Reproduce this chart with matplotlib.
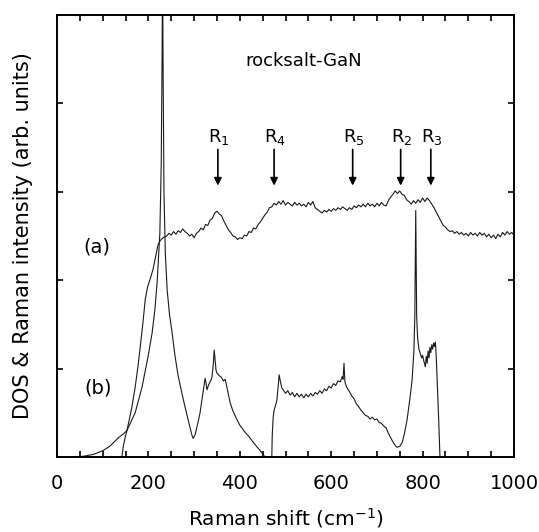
import matplotlib
matplotlib.use("Agg")
import matplotlib.pyplot as plt
from matplotlib.ticker import MultipleLocator, NullFormatter

plt.rcParams['font.family'] = ['DejaVu Sans']
plt.rcParams['mathtext.fontset'] = 'dejavusans'

# ---------------- data ----------------
# (a) Raman spectrum
raman_x = [142, 145, 149, 153, 158, 164, 171, 177, 182, 188, 193, 198, 203, 210, 216, 221, 226, 232,
           240, 245, 250, 255, 260, 265, 270, 275, 280, 285, 290, 295, 300, 305, 310, 315, 320, 325,
           330, 335, 340, 345, 350, 355, 360, 365, 370, 375, 380, 385, 390, 395, 400, 405, 410, 415,
           420, 425, 430, 435, 440, 445, 450, 455, 460, 465, 470, 475, 480, 485, 490, 495, 500, 505,
           510, 515, 520, 525, 530, 535, 540, 545, 550, 555, 560, 565, 570, 575, 580, 585, 590, 595,
           600, 605, 610, 615, 620, 625, 630, 635, 640, 645, 650, 655, 660, 665, 670, 675, 680, 685,
           690, 695, 700, 705, 710, 715, 720, 725, 730, 735, 740, 745, 750, 755, 760, 765, 770, 775,
           780, 785, 790, 795, 800, 805, 810, 815, 820, 825, 830, 835, 840, 845, 850, 855, 860, 865,
           870, 875, 880, 885, 890, 895, 900, 905, 910, 915, 920, 925, 930, 935, 940, 945, 950, 955,
           960, 965, 970, 975, 980, 985, 990, 995, 1000]
raman_y = [0.00, 0.12, 0.22, 0.30, 0.42, 0.57, 0.79, 1.02, 1.24, 1.52, 1.78, 1.92, 2.00, 2.12, 2.27, 2.40, 2.45, 2.48,
           2.50, 2.53, 2.51, 2.55, 2.52, 2.56, 2.54, 2.58, 2.55, 2.53, 2.50, 2.52, 2.48, 2.53, 2.55, 2.59, 2.57, 2.63,
           2.62, 2.68, 2.70, 2.76, 2.78, 2.75, 2.73, 2.67, 2.62, 2.57, 2.54, 2.50, 2.49, 2.46, 2.48, 2.47, 2.51, 2.50,
           2.55, 2.54, 2.59, 2.58, 2.63, 2.66, 2.70, 2.74, 2.77, 2.82, 2.83, 2.87, 2.85, 2.89, 2.86, 2.90, 2.85, 2.88,
           2.86, 2.84, 2.88, 2.85, 2.87, 2.84, 2.86, 2.83, 2.88, 2.85, 2.89, 2.82, 2.80, 2.78, 2.76, 2.79, 2.77, 2.80,
           2.78, 2.81, 2.79, 2.82, 2.80, 2.83, 2.81, 2.79, 2.82, 2.80, 2.84, 2.82, 2.85, 2.83, 2.86, 2.83, 2.87, 2.84,
           2.86, 2.83, 2.87, 2.84, 2.88, 2.85, 2.84, 2.90, 2.94, 2.97, 3.01, 2.98, 3.01, 2.97, 2.96, 2.91, 2.89, 2.86,
           2.90, 2.87, 2.91, 2.88, 2.93, 2.89, 2.93, 2.90, 2.86, 2.82, 2.77, 2.72, 2.67, 2.62, 2.60, 2.57, 2.55, 2.56,
           2.53, 2.55, 2.52, 2.54, 2.51, 2.53, 2.50, 2.54, 2.51, 2.53, 2.50, 2.54, 2.51, 2.53, 2.49, 2.52, 2.48, 2.51,
           2.47, 2.52, 2.49, 2.54, 2.51, 2.55, 2.52, 2.54, 2.51]

# (b) phonon density of states
dos_x = [40, 60, 80, 100, 115, 125, 135, 145, 153, 162, 171, 186, 199, 208, 214, 219, 225, 228, 230, 231,
         232, 234, 237, 241, 246, 252, 258, 265, 272, 280, 288, 295, 298, 302, 308, 313, 318, 322, 324,
         326, 328, 332, 336, 339, 342, 344, 346, 348, 350, 355, 360, 364, 368, 372, 379, 385, 392, 400,
         410, 420, 426, 435, 445, 455, 470, 471, 473, 475, 478, 481, 484, 486, 489, 492, 495, 500, 505,
         510, 515, 520, 525, 530, 535, 540, 545, 550, 555, 560, 565, 570, 575, 580, 585, 590, 595, 600,
         605, 610, 615, 620, 624, 626, 628, 630, 633, 636, 640, 645, 650, 655, 660, 665, 670, 675, 680,
         685, 690, 695, 700, 705, 710, 715, 720, 725, 733, 740, 744, 750, 755, 760, 766, 772, 777, 781,
         783, 784, 785, 786, 787, 789, 792, 795, 798, 800, 803, 806, 808, 810, 812, 814, 816, 818, 820,
         822, 824, 826, 828, 830, 832, 835, 838]
dos_y = [0.00, 0.01, 0.03, 0.07, 0.12, 0.17, 0.22, 0.26, 0.30, 0.40, 0.50, 0.79, 1.13, 1.40, 1.66, 1.97, 2.53, 3.30, 4.60, 5.60,
         4.50, 3.00, 2.30, 1.89, 1.62, 1.40, 1.15, 0.92, 0.75, 0.57, 0.40, 0.25, 0.21, 0.25, 0.38, 0.50, 0.68, 0.82, 0.89,
         0.84, 0.76, 0.82, 0.86, 0.90, 1.05, 1.21, 1.10, 0.98, 0.95, 0.92, 0.90, 0.86, 0.88, 0.78, 0.61, 0.52, 0.44, 0.36,
         0.29, 0.23, 0.19, 0.13, 0.07, 0.00, 0.00, 0.25, 0.45, 0.53, 0.58, 0.64, 0.80, 0.93, 0.85, 0.78, 0.76, 0.72, 0.75,
         0.70, 0.73, 0.68, 0.72, 0.68, 0.71, 0.67, 0.71, 0.68, 0.72, 0.69, 0.73, 0.71, 0.75, 0.72, 0.77, 0.75, 0.80, 0.78,
         0.83, 0.81, 0.86, 0.85, 0.91, 0.88, 1.06, 0.85, 0.80, 0.77, 0.74, 0.69, 0.66, 0.60, 0.57, 0.53, 0.50, 0.47, 0.46,
         0.43, 0.45, 0.42, 0.43, 0.39, 0.38, 0.35, 0.33, 0.27, 0.19, 0.13, 0.11, 0.12, 0.16, 0.26, 0.42, 0.65, 0.87, 1.20,
         1.60, 2.20, 2.79, 2.20, 1.60, 1.35, 1.22, 1.17, 1.12, 1.15, 1.08, 1.02, 1.14, 1.06, 1.20, 1.12, 1.24, 1.18, 1.27,
         1.22, 1.29, 1.25, 1.30, 1.12, 0.85, 0.45, 0.00]

# arrow annotations
peak_labels = ['R$_{1}$', 'R$_{4}$', 'R$_{5}$', 'R$_{2}$', 'R$_{3}$']
peak_pos = [352, 475, 647, 752, 818]

x_ticks = [0, 200, 400, 600, 800, 1000]

# ---------------- figure ----------------
fig = plt.figure(figsize=(5.39, 5.32), dpi=100)
ax = fig.add_axes([0.1058, 0.141, 0.8478, 0.8308])

ax.plot(raman_x, raman_y, color='#1a1a1a', lw=0.8)
ax.plot(dos_x, dos_y, color='#1a1a1a', lw=0.8)

ax.set_xlim(0, 1000)
ax.set_ylim(0, 5)

ax.set_xticks(x_ticks)
ax.xaxis.set_minor_locator(MultipleLocator(50))
ax.set_yticks([1, 2, 3, 4])
ax.yaxis.set_major_formatter(NullFormatter())
ax.tick_params(axis='both', which='both', direction='in', top=True, right=True,
               length=4.5, width=1.2, labelsize=14)
ax.tick_params(axis='x', pad=12)
for s in ax.spines.values():
    s.set_linewidth(1.4)

ax.set_xlabel('Raman shift (cm$^{-1}$)', fontsize=14.5, labelpad=10)
ax.set_ylabel('DOS & Raman intensity (arb. units)', fontsize=15, labelpad=14)

ax.text(540, 4.48, 'rocksalt-GaN', ha='center', va='center', fontsize=13)
ax.text(88, 2.38, '(a)', ha='center', va='center', fontsize=14)
ax.text(91, 0.78, '(b)', ha='center', va='center', fontsize=14)

for lab, xp in zip(peak_labels, peak_pos):
    ax.annotate('', xy=(xp, 3.07), xytext=(xp, 3.48),
                arrowprops=dict(arrowstyle='-|>', color='black', lw=1.2,
                                mutation_scale=11, shrinkA=0, shrinkB=0))
    ax.text(xp + 3, 3.56, lab, ha='center', va='baseline', fontsize=13)

fig.savefig('out.png', dpi=100)
